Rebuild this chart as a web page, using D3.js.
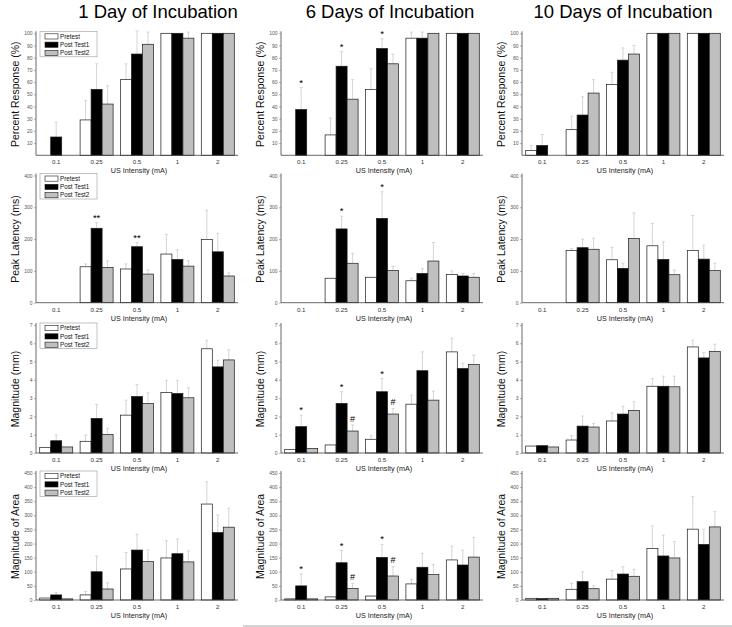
<!DOCTYPE html>
<html><head><meta charset="utf-8">
<script src="https://cdn.jsdelivr.net/npm/d3@7"></script>
<style>body{margin:0;background:#fff}svg{display:block;font-family:"Liberation Sans",Arial,sans-serif}</style>
</head><body>
<script>
// ---------- DATA ----------
const categories = ["0.1","0.25","0.5","1","2"];
const seriesNames = ["Pretest","Post Test1","Post Test2"];
const dayTitles = ["1 Day of Incubation","6 Days of Incubation","10 Days of Incubation"];
const measureLabels = ["Percent Response (%)","Peak Latency (ms)","Magnitude (mm)","Magnitude of Area"];
const xAxisLabel = "US Intensity (mA)";

const percentTicks = [10,20,30,40,50,60,70,80,90,100];
const latencyTicks = [0,100,200,300,400];
const magnitudeTicks = [0,1,2,3,4,5,6,7];
const areaTicks = [0,50,100,150,200,250,300,350,400,450];

// Percent Response [Pretest, Post Test1, Post Test2]
const percentDay1 = [[0,29,62,100,100],[15,54,83,100,100],[0,42,91,96,100]];
const percentDay1Err = [[0,16,13,0,0],[12,21,19,0,0],[0,15,10,5,0]];
const percentDay6 = [[0,16.7,54,96,100],[37.5,73,87.5,96,100],[0,46,75,100,100]];
const percentDay6Err = [[0,14,17,5,0],[18,12,8,5,0],[0,16,8,0,0]];
const percentDay10 = [[4,21,58,100,100],[8,33,78,100,100],[0,51,83,100,100]];
const percentDay10Err = [[4,11,10,0,0],[9,15,10,0,0],[0,11,7,0,0]];

// Peak Latency (ms)
const latencyDay1 = [[null,113,106,153,199],[null,234,176,136,160],[null,111,90,115,84]];
const latencyDay1Err = [[0,9,16,62,92],[0,18,13,30,58],[0,20,13,17,10]];
const latencyDay6 = [[null,77,80,69,89],[null,232,265,92,84],[null,124,101,131,80]];
const latencyDay6Err = [[0,0,0,8,11],[0,40,84,15,8],[0,31,14,58,12]];
const latencyDay10 = [[null,164,135,179,164],[null,173,108,136,137],[null,168,202,88,101]];
const latencyDay10Err = [[0,6,39,70,110],[0,27,16,56,44],[0,35,80,15,23]];

// Magnitude (mm)
const magnitudeDay1 = [[0.31,0.64,2.07,3.31,5.7],[0.67,1.89,3.09,3.25,4.71],[0.33,1.02,2.71,3.02,5.09]];
const magnitudeDay1Err = [[0,0.34,0.82,0.67,0.47],[0.31,0.76,0.66,0.73,0.36],[0,0.33,0.58,0.54,0.56]];
const magnitudeDay6 = [[0.2,0.44,0.75,2.67,5.53],[1.44,2.71,3.35,4.5,4.62],[0.25,1.2,2.13,2.89,4.84]];
const magnitudeDay6Err = [[0,0,0.2,0.49,0.75],[0.63,0.64,0.72,1.03,0.28],[0,0.33,0.31,0.49,0.51]];
const magnitudeDay10 = [[0.38,0.71,1.75,3.65,5.8],[0.4,1.47,2.13,3.65,5.2],[0.33,1.42,2.33,3.62,5.56]];
const magnitudeDay10Err = [[0,0.24,0.45,0.42,0.37],[0,0.55,0.43,0.55,0.29],[0,0.2,0.47,0.58,0.39]];

// Magnitude of Area
const areaDay1 = [[7,18,110,149,340],[18,100,177,164,239],[4,39,136,135,258]];
const areaDay1Err = [[0,12,58,61,79],[8,56,56,52,62],[0,22,41,39,67]];
const areaDay6 = [[4,11,14,57,142],[50,132,151,116,124],[4,41,85,90,152]];
const areaDay6Err = [[0,0,0,16,49],[42,43,46,49,53],[0,18,33,36,70]];
const areaDay10 = [[6,38,74,183,251],[5,65,92,156,197],[6,40,84,149,259]];
const areaDay10Err = [[0,21,30,79,115],[0,35,26,74,54],[0,10,25,58,54]];

// significance markers: category, series index, symbol
const sigLatencyDay1 = [["0.25",1,"**"],["0.5",1,"**"]];
const sigPercentDay6 = [["0.1",1,"*"],["0.25",1,"*"],["0.5",1,"*"]];
const sigLatencyDay6 = [["0.25",1,"*"],["0.5",1,"*"]];
const sigMagnitudeDay6 = [["0.1",1,"*"],["0.25",1,"*"],["0.5",1,"*"],["0.25",2,"#"],["0.5",2,"#"]];
const sigAreaDay6 = [["0.1",1,"*"],["0.25",1,"*"],["0.5",1,"*"],["0.25",2,"#"],["0.5",2,"#"]];

// ---------- LAYOUT ----------
const W = 732, H = 627;
const colX = [36, 281, 522];
const plotW = 202;
const titleCenters = [158, 390, 623];
const rows = [
  {base:155.3, top:33.3, max:100, ticks:percentTicks, vals:[percentDay1,percentDay6,percentDay10], errs:[percentDay1Err,percentDay6Err,percentDay10Err], sigs:[[],sigPercentDay6,[]]},
  {base:302.7, top:175.5, max:400, ticks:latencyTicks, vals:[latencyDay1,latencyDay6,latencyDay10], errs:[latencyDay1Err,latencyDay6Err,latencyDay10Err], sigs:[sigLatencyDay1,sigLatencyDay6,[]]},
  {base:453, top:325, max:7, ticks:magnitudeTicks, vals:[magnitudeDay1,magnitudeDay6,magnitudeDay10], errs:[magnitudeDay1Err,magnitudeDay6Err,magnitudeDay10Err], sigs:[[],sigMagnitudeDay6,[]]},
  {base:600, top:473, max:450, ticks:areaTicks, vals:[areaDay1,areaDay6,areaDay10], errs:[areaDay1Err,areaDay6Err,areaDay10Err], sigs:[[],sigAreaDay6,[]]}
];
const fills = ["#ffffff","#000000","#bfbfbf"];
const barW = 11;

const svg = d3.select("body").append("svg").attr("width",W).attr("height",H);
svg.append("rect").attr("width",W).attr("height",H).attr("fill","#fff");

dayTitles.forEach((t,c)=>{
  svg.append("text").attr("x",titleCenters[c]).attr("y",18).attr("text-anchor","middle")
    .attr("font-size",18.5).attr("fill","#000").text(t);
});

rows.forEach((row,r)=>{
  colX.forEach((x0,c)=>{
    const g = svg.append("g");
    const x = d3.scaleBand().domain(categories).range([x0, x0+plotW]);
    const xs = d3.scaleBand().domain([0,1,2]).range([-1.5*barW, 1.5*barW]);
    const y = d3.scaleLinear().domain([0,row.max]).range([row.base,row.top]);
    const vals = row.vals[c], errs = row.errs[c];

    // error bars (drawn first, behind bars)
    vals.forEach((sv,s)=>{
      sv.forEach((v,i)=>{
        const e = errs[s][i];
        if(v==null || !e) return;
        const cx = x(categories[i]) + x.bandwidth()/2 + xs(s) + barW/2;
        g.append("line").attr("x1",cx).attr("x2",cx).attr("y1",y(v)).attr("y2",y(v+e))
          .attr("stroke","#cacaca").attr("stroke-width",0.8);
        g.append("line").attr("x1",cx-1.5).attr("x2",cx+1.5).attr("y1",y(v+e)).attr("y2",y(v+e))
          .attr("stroke","#cacaca").attr("stroke-width",0.8);
      });
    });
    // bars
    vals.forEach((sv,s)=>{
      g.selectAll(null).data(sv.map((v,i)=>({v,i})).filter(d=>d.v!=null && d.v>0)).enter()
        .append("rect")
        .attr("x",d=>x(categories[d.i]) + x.bandwidth()/2 + xs(s))
        .attr("width",barW)
        .attr("y",d=>y(d.v)).attr("height",d=>y(0)-y(d.v))
        .attr("fill",fills[s]).attr("stroke","#1a1a1a").attr("stroke-width",0.7);
    });
    // significance marks
    row.sigs[c].forEach(([cat,s,m])=>{
      const i = categories.indexOf(cat);
      const top = vals[s][i] + (errs[s][i]||0);
      const cx = x(cat) + x.bandwidth()/2 + xs(s) + barW/2;
      g.append("text").attr("x",cx).attr("y",y(top)-(m==="#"?3.5:2)).attr("text-anchor","middle")
        .attr("font-size",m==="#"?9:9.5).attr("fill","#000").text(m);
    });
    // axes
    const yAxis = d3.axisLeft(y).tickValues(row.ticks).tickSize(2).tickPadding(1.5)
      .tickFormat(d3.format("d"));
    const ya = g.append("g").attr("transform",`translate(${x0},0)`).call(yAxis);
    ya.select(".domain").attr("d",`M0,${row.base}V${row.top-2}`).attr("stroke","#444").attr("stroke-width",0.8);
    ya.selectAll(".tick line").attr("stroke","#666").attr("stroke-width",0.5);
    ya.selectAll(".tick text").attr("font-size",5).attr("fill","#555").attr("font-family","Liberation Sans, Arial, sans-serif");

    const xAxis = d3.axisBottom(x).tickSize(0).tickPadding(4.5);
    const xa = g.append("g").attr("transform",`translate(0,${row.base})`).call(xAxis);
    xa.select(".domain").attr("d",`M${x0},0H${x0+plotW}`).attr("stroke","#444").attr("stroke-width",0.8);
    xa.selectAll(".tick text").attr("font-size",6.2).attr("fill","#333").attr("font-family","Liberation Sans, Arial, sans-serif");

    g.append("text").attr("x",x0+plotW/2+2).attr("y",row.base+18).attr("text-anchor","middle")
      .attr("font-size",7.2).attr("fill","#222").text(xAxisLabel);
    const ymid = (row.base+row.top)/2;
    g.append("text").attr("transform",`translate(${x0-17},${ymid}) rotate(-90)`).attr("text-anchor","middle")
      .attr("font-size",10.5).attr("fill","#111").text(measureLabels[r]);

    // legend in first column
    if(c===0){
      const lg = g.append("g").attr("transform",`translate(40,${row.top-2})`);
      lg.append("rect").attr("width",57).attr("height",25.5).attr("fill","#fff").attr("stroke","#999").attr("stroke-width",0.6);
      seriesNames.forEach((n,s)=>{
        lg.append("rect").attr("x",5).attr("y",2.5+s*8.3).attr("width",13).attr("height",5.2)
          .attr("fill",fills[s]).attr("stroke","#1a1a1a").attr("stroke-width",0.6);
        lg.append("text").attr("x",20).attr("y",7.3+s*8.3).attr("font-size",6.3).attr("fill","#111").text(n);
      });
    }
  });
});

svg.append("line").attr("x1",243).attr("x2",W).attr("y1",626).attr("y2",626).attr("stroke","#aaa").attr("stroke-width",1);
</script>
</body></html>
